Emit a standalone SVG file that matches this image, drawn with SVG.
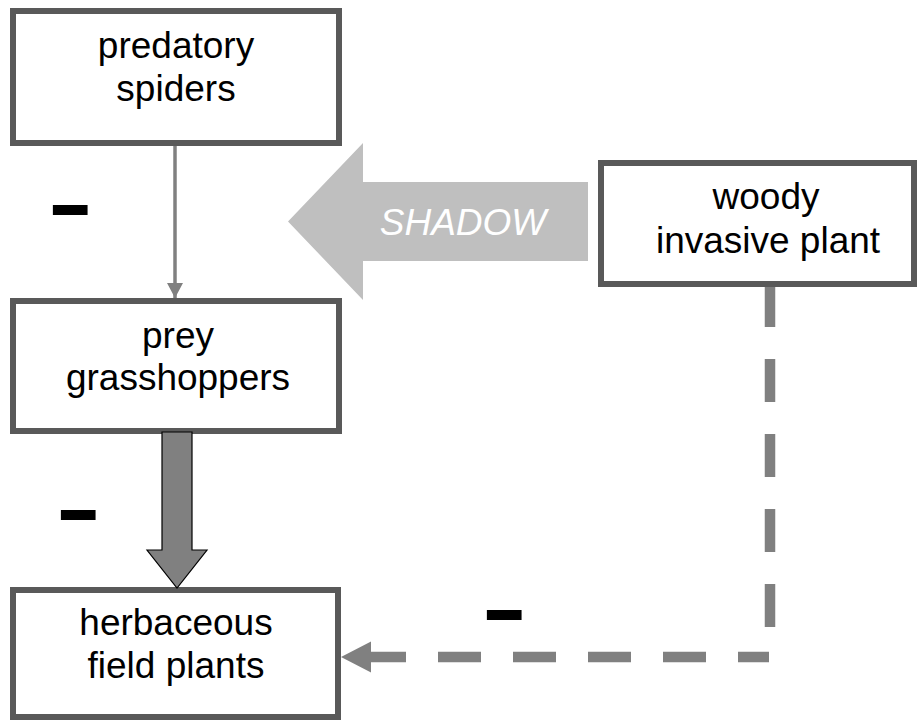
<svg xmlns="http://www.w3.org/2000/svg" width="917" height="721" viewBox="0 0 917 721">
<style>
.box{fill:#ffffff;stroke:#595959;stroke-width:6}
.lbl{font-family:"Liberation Sans",Arial,sans-serif;font-size:37px;fill:#000000;text-anchor:middle}
.minus{font-family:"Liberation Sans",Arial,sans-serif;font-weight:bold;font-size:62px;fill:#000000;stroke:#000000;stroke-width:4;stroke-linejoin:miter}
.dash{stroke:#808080;stroke-width:10.5;fill:none;stroke-dasharray:43 32}
</style>
<defs>
<marker id="thinHead" viewBox="0 0 15 16" refX="15" refY="8" markerWidth="15" markerHeight="16" markerUnits="userSpaceOnUse" orient="auto">
<polygon points="0,0 15,8 0,16" fill="#808080"/>
</marker>
</defs>
<rect width="917" height="721" fill="#ffffff"/>
<g id="node-spiders">
<rect class="box" x="13" y="11" width="326" height="132"/>
<text class="lbl" x="176" y="58">predatory</text>
<text class="lbl" x="176" y="101">spiders</text>
</g>
<g id="node-grasshoppers">
<rect class="box" x="13" y="301" width="326" height="130"/>
<text class="lbl" x="178" y="348">prey</text>
<text class="lbl" x="178" y="390">grasshoppers</text>
</g>
<g id="node-herbaceous">
<rect class="box" x="13" y="590" width="325" height="127"/>
<text class="lbl" x="176" y="635">herbaceous</text>
<text class="lbl" x="176" y="678">field plants</text>
</g>
<g id="node-woody">
<rect class="box" x="601" y="163" width="313" height="121"/>
<text class="lbl" x="766" y="209">woody</text>
<text class="lbl" x="768" y="253">invasive plant</text>
</g>
<g id="connectors">
<line x1="175" y1="146" x2="175" y2="298" stroke="#808080" stroke-width="3.5" marker-end="url(#thinHead)"/>
<polygon points="162,432 192,432 192,550 207,550 177,588 147,550 162,550" fill="#808080" stroke="#000000" stroke-width="1.2"/>
<line class="dash" x1="770" y1="287" x2="770" y2="630" stroke-dashoffset="3"/>
<line class="dash" x1="769" y1="657" x2="371" y2="657" stroke-dashoffset="12"/>
<polygon points="341,657 371,641.5 371,672.5" fill="#808080"/>
<g id="shadow-arrow">
<polygon points="288,221.5 363,143 363,182 588,182 588,261 363,261 363,300" fill="#bfbfbf"/>
<text x="463" y="235" font-family="'Liberation Sans',Arial,sans-serif" font-style="italic" font-size="37" fill="#ffffff" text-anchor="middle">SHADOW</text>
</g>
</g>
<g id="signs">
<text class="minus" x="53" y="226">–</text>
<text class="minus" x="61" y="531">–</text>
<text class="minus" x="487" y="631">–</text>
</g>
</svg>
